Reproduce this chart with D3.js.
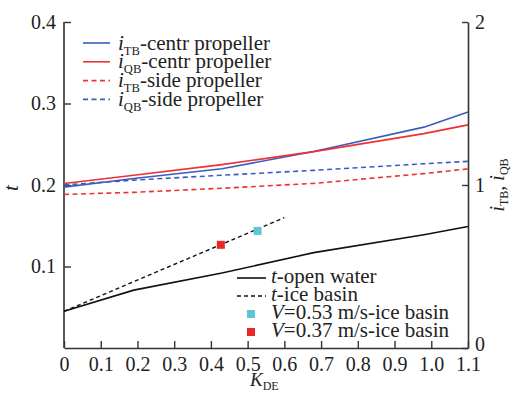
<!DOCTYPE html>
<html>
<head>
<meta charset="utf-8">
<script src="https://cdn.jsdelivr.net/npm/d3@7"></script>
<style>
  body { margin: 0; background: #fff; }
</style>
</head>
<body>
<div id="chart"></div>
<script>
// K_DE sample points shared by the propeller curves
const kde = [0, 0.19, 0.43, 0.68, 0.98, 1.1];
const iTBcentr = [0.987, 1.04, 1.10, 1.205, 1.355, 1.448];
const iQBcentr = [1.009, 1.06, 1.125, 1.205, 1.315, 1.369];
const iTBside = [0.942, 0.955, 0.98, 1.01, 1.07, 1.099];
const iQBside = [1.0, 1.03, 1.06, 1.09, 1.13, 1.145];

const openWaterK = [0, 0.19, 0.43, 0.68, 0.98, 1.1];
const openWaterT = [0.045, 0.071, 0.092, 0.117, 0.139, 0.149];
const iceBasinK = [0, 0.6];
const iceBasinT = [0.045, 0.16];

const pointV053 = { k: 0.527, t: 0.1437 };
const pointV037 = { k: 0.427, t: 0.1266 };

const xTicks = [0, 0.1, 0.2, 0.3, 0.4, 0.5, 0.6, 0.7, 0.8, 0.9, 1.0, 1.1];
const tTicks = [0.1, 0.2, 0.3, 0.4];
const iTicks = [0, 1, 2];

const W = 512, H = 399;
const margin = { top: 22, right: 44, bottom: 51, left: 64 };
const width = W - margin.left - margin.right;
const height = H - margin.top - margin.bottom;
const FONT = 'Liberation Serif';

const svg = d3.select('#chart').append('svg')
  .attr('width', W).attr('height', H)
  .attr('font-family', FONT);
const g = svg.append('g').attr('transform', `translate(${margin.left},${margin.top})`);

const x = d3.scaleLinear().domain([0, 1.1]).range([0, width]);
const yT = d3.scaleLinear().domain([0, 0.4]).range([height, 0]);
const yI = d3.scaleLinear().domain([0, 2]).range([height, 0]);

const blue = '#3a5cc0', red = '#ee3030';
const axisColor = '#333';

// Axes
const xAxis = g.append('g').attr('transform', `translate(0,${height})`)
  .call(d3.axisBottom(x).tickValues(xTicks).tickSizeInner(-7).tickSizeOuter(0)
    .tickFormat(d => d === 0 ? '0' : d3.format('.1f')(d)));
const lAxis = g.append('g')
  .call(d3.axisLeft(yT).tickValues(tTicks).tickSizeInner(-7).tickSizeOuter(0).tickFormat(d3.format('.1f')));
const rAxis = g.append('g').attr('transform', `translate(${width},0)`)
  .call(d3.axisRight(yI).tickValues(iTicks).tickSizeInner(-6).tickSizeOuter(0).tickFormat(d3.format('d')));

[xAxis, lAxis, rAxis].forEach(a => {
  a.attr('font-family', FONT).attr('font-size', 20);
  a.select('.domain').attr('stroke', axisColor).attr('stroke-width', 1.6);
  a.selectAll('.tick line').attr('stroke', axisColor).attr('stroke-width', 1.4);
  a.selectAll('.tick text').attr('fill', '#222');
});
xAxis.selectAll('.tick text').attr('y', 9);
lAxis.selectAll('.tick text').attr('x', -8);
rAxis.selectAll('.tick text').attr('x', 7);
rAxis.selectAll('.tick').filter(d => d === 0).select('text').attr('dy', '0.1em');
// left axis extends to 0.4 with the top tick
lAxis.select('.domain').attr('d', `M0,${height}V${yT(0.4)}`);

// Lines
const lineI = (ks, vs) => d3.line().x((d, i) => x(ks[i])).y(d => yI(d))(vs);
const lineT = (ks, vs) => d3.line().x((d, i) => x(ks[i])).y(d => yT(d))(vs);

const series = [
  { vals: iTBcentr, color: blue, dash: null },
  { vals: iQBcentr, color: red, dash: null },
  { vals: iTBside, color: red, dash: '5,3.5' },
  { vals: iQBside, color: blue, dash: '5,3.5' },
];
series.forEach(s => {
  g.append('path').attr('d', lineI(kde, s.vals))
    .attr('fill', 'none').attr('stroke', s.color).attr('stroke-width', 1.6)
    .attr('stroke-dasharray', s.dash);
});

g.append('path').attr('d', lineT(openWaterK, openWaterT))
  .attr('fill', 'none').attr('stroke', '#111').attr('stroke-width', 1.6);
g.append('path').attr('d', lineT(iceBasinK, iceBasinT))
  .attr('fill', 'none').attr('stroke', '#111').attr('stroke-width', 1.4).attr('stroke-dasharray', '4,3');

const sq = 8;
g.append('rect').attr('x', x(pointV053.k) - sq / 2).attr('y', yT(pointV053.t) - sq / 2)
  .attr('width', sq).attr('height', sq).attr('fill', '#5cc6d6');
g.append('rect').attr('x', x(pointV037.k) - sq / 2).attr('y', yT(pointV037.t) - sq / 2)
  .attr('width', sq).attr('height', sq).attr('fill', '#e82828');

// Helper for italic symbol with subscript
function symText(sel, sym, sub, rest, size) {
  sel.append('tspan').attr('font-style', 'italic').text(sym);
  if (sub) sel.append('tspan').attr('font-size', size * 0.6).attr('dy', size * 0.24).text(sub);
  if (rest) sel.append('tspan').attr('dy', sub ? -size * 0.24 : 0).text(rest);
}

// Upper legend
const fs = 21;
const topLegend = [
  { sym: 'i', sub: 'TB', rest: '-centr propeller', color: blue, dash: null },
  { sym: 'i', sub: 'QB', rest: '-centr propeller', color: red, dash: null },
  { sym: 'i', sub: 'TB', rest: '-side propeller', color: red, dash: '5,3.5' },
  { sym: 'i', sub: 'QB', rest: '-side propeller', color: blue, dash: '5,3.5' },
];
topLegend.forEach((d, i) => {
  const yy = 43 + i * 18.8;
  svg.append('line').attr('x1', 83).attr('x2', 110).attr('y1', yy).attr('y2', yy)
    .attr('stroke', d.color).attr('stroke-width', 1.6).attr('stroke-dasharray', d.dash);
  const t = svg.append('text').attr('x', 118).attr('y', yy + 6.5)
    .attr('font-size', fs).attr('fill', '#222');
  symText(t, d.sym, d.sub, d.rest, fs);
});

// Lower legend
const lowY = [278, 296, 314, 332];
svg.append('line').attr('x1', 237).attr('x2', 266).attr('y1', lowY[0]).attr('y2', lowY[0])
  .attr('stroke', '#111').attr('stroke-width', 1.6);
svg.append('line').attr('x1', 237).attr('x2', 266).attr('y1', lowY[1]).attr('y2', lowY[1])
  .attr('stroke', '#111').attr('stroke-width', 1.4).attr('stroke-dasharray', '4,3');
svg.append('rect').attr('x', 251 - 4).attr('y', lowY[2] - 4).attr('width', 8).attr('height', 8).attr('fill', '#5cc6d6');
svg.append('rect').attr('x', 251 - 4).attr('y', lowY[3] - 4).attr('width', 8).attr('height', 8).attr('fill', '#e82828');

const lowText = [
  { sym: 't', rest: '-open water' },
  { sym: 't', rest: '-ice basin' },
  { sym: 'V', rest: '=0.53 m/s-ice basin' },
  { sym: 'V', rest: '=0.37 m/s-ice basin' },
];
lowText.forEach((d, i) => {
  const t = svg.append('text').attr('x', 271).attr('y', lowY[i] + 5)
    .attr('font-size', fs).attr('fill', '#222');
  symText(t, d.sym, null, d.rest, fs);
});

// Axis titles
svg.append('text').attr('transform', `translate(18,${yT(0.2) + margin.top + 3}) rotate(-90)`)
  .attr('text-anchor', 'middle').attr('font-size', 21).attr('font-style', 'italic')
  .attr('fill', '#222').text('t');

const rt = svg.append('text').attr('transform', `translate(504,${yI(1) + margin.top}) rotate(-90)`)
  .attr('text-anchor', 'middle').attr('font-size', 20).attr('fill', '#222');
rt.append('tspan').attr('font-style', 'italic').text('i');
rt.append('tspan').attr('font-size', 12).attr('dy', 4).text('TB');
rt.append('tspan').attr('dy', -4).text(', ');
rt.append('tspan').attr('font-style', 'italic').text('i');
rt.append('tspan').attr('font-size', 12).attr('dy', 4).text('QB');

const xt = svg.append('text').attr('x', 250).attr('y', 386).attr('font-size', 19).attr('fill', '#222');
xt.append('tspan').attr('font-style', 'italic').text('K');
xt.append('tspan').attr('font-size', 12).attr('dy', 4).text('DE');
</script>
</body>
</html>
